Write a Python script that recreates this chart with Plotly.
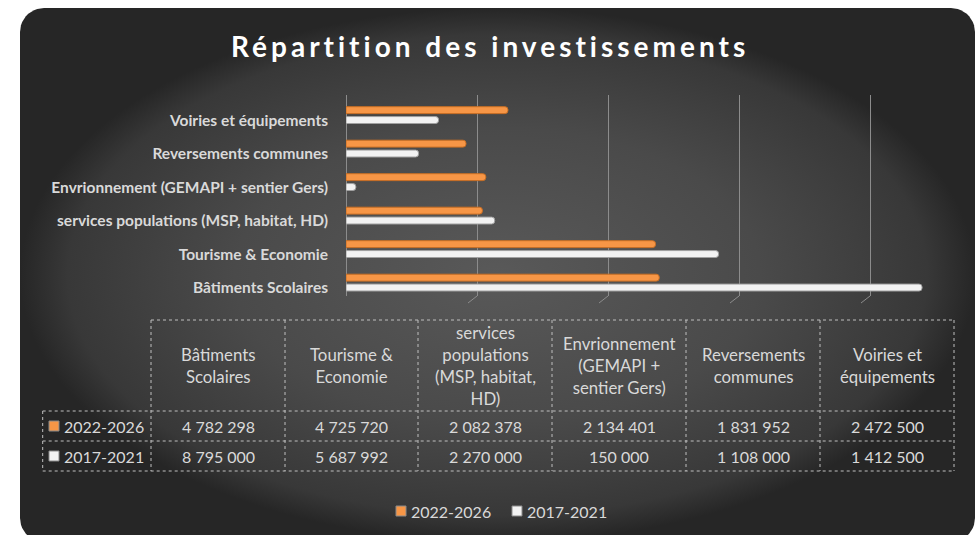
import numpy as np
import plotly.graph_objects as go

# Data
categories = [
    "Bâtiments Scolaires",
    "Tourisme & Economie",
    "services populations (MSP, habitat, HD)",
    "Envrionnement (GEMAPI + sentier Gers)",
    "Reversements communes",
    "Voiries et équipements",
]
header_labels = [
    "Bâtiments<br>Scolaires",
    "Tourisme &<br>Economie",
    "services<br>populations<br>(MSP, habitat,<br>HD)",
    "Envrionnement<br>(GEMAPI +<br>sentier Gers)",
    "Reversements<br>communes",
    "Voiries et<br>équipements",
]
series_names = ["2022-2026", "2017-2021"]
values_2022_2026 = [4782298, 4725720, 2082378, 2134401, 1831952, 2472500]
values_2017_2021 = [8795000, 5687992, 2270000, 150000, 1108000, 1412500]
x_ticks = [0, 2000000, 4000000, 6000000, 8000000]

ORANGE = "#F79646"
WHITE = "#F2F2F2"
TXT = "#d9d9d9"
FONT = "Lato"

W, H = 976, 535


def px(x):
    return x / W


def py(y):
    return 1 - y / H


def fmt(v):
    return f"{v:,}".replace(",", " ")


# rounded card outline (pixel coords)
def rounded_rect(x0, y0, x1, y1, r):
    xs, ys = [], []
    for cx, cy, a0 in [(x1 - r, y0 + r, -90), (x1 - r, y1 - r, 0),
                       (x0 + r, y1 - r, 90), (x0 + r, y0 + r, 180)]:
        a = np.radians(np.linspace(a0, a0 + 90, 12))
        xs += list(cx + r * np.cos(a))
        ys += list(cy + r * np.sin(a))
    xs.append(xs[0])
    ys.append(ys[0])
    return xs, ys


fig = go.Figure()

cx, cy = rounded_rect(20, 8, 975, 542, 24)
fig.add_trace(go.Scatter(
    x=cx, y=cy, mode="lines", fill="toself",
    fillgradient=dict(type="radial", colorscale=[[0, "#595959"], [0.55, "#4a4a4a"],
                                                 [0.9, "#383838"], [1, "#262626"]]),
    line=dict(width=0), hoverinfo="skip", showlegend=False,
    xaxis="x", yaxis="y",
))

# bars: 2017-2021 first so it sits below in each group
fig.add_trace(go.Bar(
    y=categories, x=values_2017_2021, name=series_names[1], orientation="h",
    marker=dict(color=WHITE, line=dict(color="#a0a0a0", width=1), cornerradius=3),
    xaxis="x2", yaxis="y2", showlegend=False,
))
fig.add_trace(go.Bar(
    y=categories, x=values_2022_2026, name=series_names[0], orientation="h",
    marker=dict(color=ORANGE, line=dict(color="#c96f24", width=1), cornerradius=3),
    xaxis="x2", yaxis="y2", showlegend=False,
))

# small 3D floor slants at the bottom of gridlines
y_bottom = py(296)
for t in x_ticks:
    fig.add_shape(type="line", xref="x2", yref="paper",
                  xsizemode="pixel", xanchor=t, x0=0, x1=-9,
                  ysizemode="pixel", yanchor=y_bottom, y0=0, y1=-7,
                  line=dict(color="#8c8c8c", width=1))

# data table
col_edges = [151, 285, 418, 552, 686, 820, 954]
left_edge = 42.7
y_top, y_r1, y_r2, y_bot = 320, 411, 441, 471
line_style = dict(color="#bfbfbf", width=1, dash="dot")


def hline(y, xa, xb):
    fig.add_shape(type="line", xref="paper", yref="paper",
                  x0=px(xa), x1=px(xb), y0=py(y), y1=py(y), line=line_style)


def vline(x, ya, yb):
    fig.add_shape(type="line", xref="paper", yref="paper",
                  x0=px(x), x1=px(x), y0=py(ya), y1=py(yb), line=line_style)


hline(y_top, col_edges[0], col_edges[-1])
for yy in (y_r1, y_r2, y_bot):
    hline(yy, left_edge, col_edges[-1])
vline(left_edge, y_r1, y_bot)
for xx in col_edges:
    vline(xx, y_top, y_bot)

tfont = dict(family=FONT, size=16, color=TXT)
hfont = dict(family=FONT, size=16.8, color=TXT)
for i, lab in enumerate(header_labels):
    xc = (col_edges[i] + col_edges[i + 1]) / 2
    fig.add_annotation(x=px(xc), y=py((y_top + y_r1) / 2), xref="paper", yref="paper",
                       text=lab, showarrow=False, font=hfont, xanchor="center", yanchor="middle")
    fig.add_annotation(x=px(xc), y=py((y_r1 + y_r2) / 2), xref="paper", yref="paper",
                       text=fmt(values_2022_2026[i]), showarrow=False, font=tfont,
                       xanchor="center", yanchor="middle")
    fig.add_annotation(x=px(xc), y=py((y_r2 + y_bot) / 2), xref="paper", yref="paper",
                       text=fmt(values_2017_2021[i]), showarrow=False, font=tfont,
                       xanchor="center", yanchor="middle")


def legend_key(x, ym, name, color):
    fig.add_shape(type="rect", xref="paper", yref="paper",
                  x0=px(x), x1=px(x + 10), y0=py(ym - 5), y1=py(ym + 5),
                  fillcolor=color, line=dict(color="#8a8a8a", width=1))
    fig.add_annotation(x=px(x + 13), y=py(ym), xref="paper", yref="paper", text=name,
                       showarrow=False, font=tfont, xanchor="left", yanchor="middle")


# row headers with legend keys
legend_key(49, (y_r1 + y_r2) / 2, series_names[0], ORANGE)
legend_key(49, (y_r2 + y_bot) / 2, series_names[1], WHITE)

# bottom legend
legend_key(396, 511, series_names[0], ORANGE)
legend_key(512, 511, series_names[1], WHITE)

# title
title = "Répartition des investissements"
fig.add_annotation(x=px(490), y=py(46), xref="paper", yref="paper",
                   text=f"<span style='letter-spacing:4px'><b>{title}</b></span>",
                   showarrow=False, font=dict(family=FONT, size=28, color="white"),
                   xanchor="center", yanchor="middle")

fig.update_layout(
    template="none",
    width=W, height=H,
    margin=dict(l=0, r=0, t=0, b=0),
    paper_bgcolor="white",
    plot_bgcolor="rgba(0,0,0,0)",
    barmode="group",
    bargap=0.41,
    bargroupgap=0.3,
    xaxis=dict(domain=[0, 1], range=[0, W], visible=False, fixedrange=True),
    yaxis=dict(domain=[0, 1], range=[H, 0], visible=False, fixedrange=True),
    xaxis2=dict(domain=[px(346), px(935.5)], range=[0, 9000000], anchor="y2",
                tickvals=x_ticks, showticklabels=False, showgrid=True,
                gridcolor="#8c8c8c", gridwidth=1, zeroline=True,
                zerolinecolor="#8c8c8c", zerolinewidth=1, showline=False,
                ticks="", automargin=False),
    yaxis2=dict(domain=[py(296), py(95)], anchor="x2", type="category",
                categoryorder="array", categoryarray=categories, range=[-0.4, 5.6],
                showgrid=False, zeroline=False, showline=False, ticks="",
                tickfont=dict(family=FONT, size=15.5, color=TXT, weight="bold"),
                ticklabelstandoff=17, ticklabelshift=5, automargin=False),
    showlegend=False,
)

fig.write_html("out.html", config={"displayModeBar": False},
               post_script="document.body.style.margin='0';")
